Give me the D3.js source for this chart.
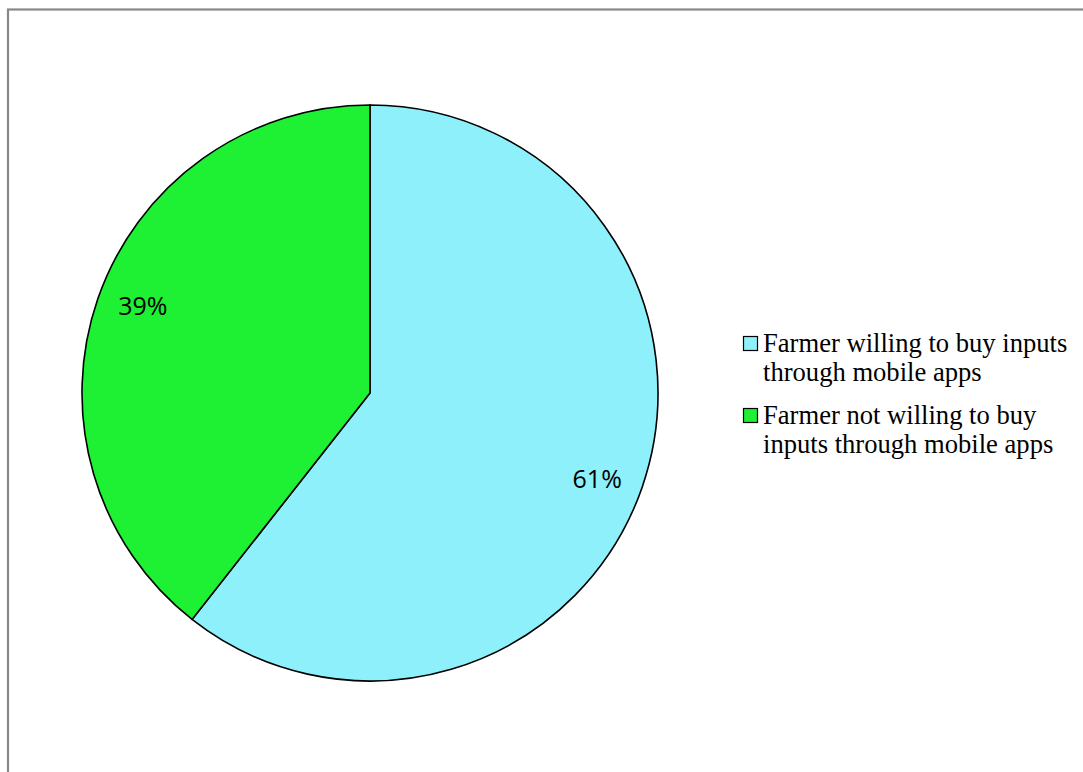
<!doctype html>
<html lang="en">
<head>
  <meta charset="UTF-8">
  <title>Farmers buying inputs through mobile apps</title>
  <script src="https://cdn.jsdelivr.net/npm/d3@7"></script>
  <style>
    html, body { margin: 0; padding: 0; background: #fff; }
  </style>
</head>
<body>
<svg width="1083" height="772" id="pie"></svg>
<script>
  var categories = ['Farmer willing to buy inputs through mobile apps',
                    'Farmer not willing to buy inputs through mobile apps'];
  // slice sizes (labels round them)
  var values = [60.6, 39.4];
  var colors = ['#8df0fb', '#1ef033'];
  var legendLines = [['Farmer willing to buy inputs', 'through mobile apps'],
                     ['Farmer not willing to buy', 'inputs through mobile apps']];

  (function () {
    var svg = d3.select('#pie'),
      cx = 370, cy = 393, radius = 288,
      labelRadius = 243, labelTurn = 0.03;

    // outer frame (only top and left edges visible)
    svg.append('rect')
      .attr('x', 8).attr('y', 9.5)
      .attr('width', 1200).attr('height', 900)
      .attr('fill', 'none')
      .attr('stroke', '#888')
      .attr('stroke-width', 2.2);

    var data = categories.map(function (c, i) {
      return {name: c, value: values[i], color: colors[i]};
    });
    var total = d3.sum(values);

    var pie = d3.pie().sort(null).value(function (d) { return d.value; });
    var arc = d3.arc().innerRadius(0).outerRadius(radius);
    var labelArc = d3.arc().innerRadius(labelRadius).outerRadius(labelRadius);

    var g = svg.append('g').attr('transform', 'translate(' + cx + ',' + cy + ')');
    var arcs = pie(data);

    g.selectAll('.slice').data(arcs).enter().append('path')
      .attr('class', 'slice')
      .attr('d', arc)
      .attr('fill', function (d) { return d.data.color; })
      .attr('stroke', '#000')
      .attr('stroke-width', 1.6);

    g.selectAll('.label').data(arcs).enter().append('text')
      .attr('class', 'label')
      .attr('transform', function (d) {
        var p = labelArc.centroid({startAngle: d.startAngle + labelTurn, endAngle: d.endAngle + labelTurn});
        return 'translate(' + p + ')';
      })
      .attr('text-anchor', 'middle')
      .attr('dy', '0.35em')
      .attr('font-family', 'Open Sans, sans-serif')
      .attr('font-size', 25)
      .attr('fill', '#000')
      .text(function (d) { return Math.round(d.data.value / total * 100) + '%'; });

    var legend = svg.append('g').attr('transform', 'translate(743, 0)');
    var rowY = [336, 408];
    var item = legend.selectAll('.item').data(data).enter().append('g')
      .attr('class', 'item')
      .attr('transform', function (d, i) { return 'translate(0,' + rowY[i] + ')'; });

    item.append('rect')
      .attr('x', 0.5).attr('y', 0.5)
      .attr('width', 14).attr('height', 14)
      .attr('fill', function (d) { return d.color; })
      .attr('stroke', '#000')
      .attr('stroke-width', 1.2);

    item.append('text')
      .attr('x', 20)
      .attr('y', 16)
      .attr('font-family', 'Liberation Serif, Times New Roman, serif')
      .attr('font-size', 26.6)
      .attr('fill', '#000')
      .selectAll('tspan').data(function (d, i) { return legendLines[i]; }).enter().append('tspan')
      .attr('x', 20)
      .attr('dy', function (d, j) { return j === 0 ? 0 : 29; })
      .text(function (d) { return d; });
  })();
</script>
</body>
</html>
